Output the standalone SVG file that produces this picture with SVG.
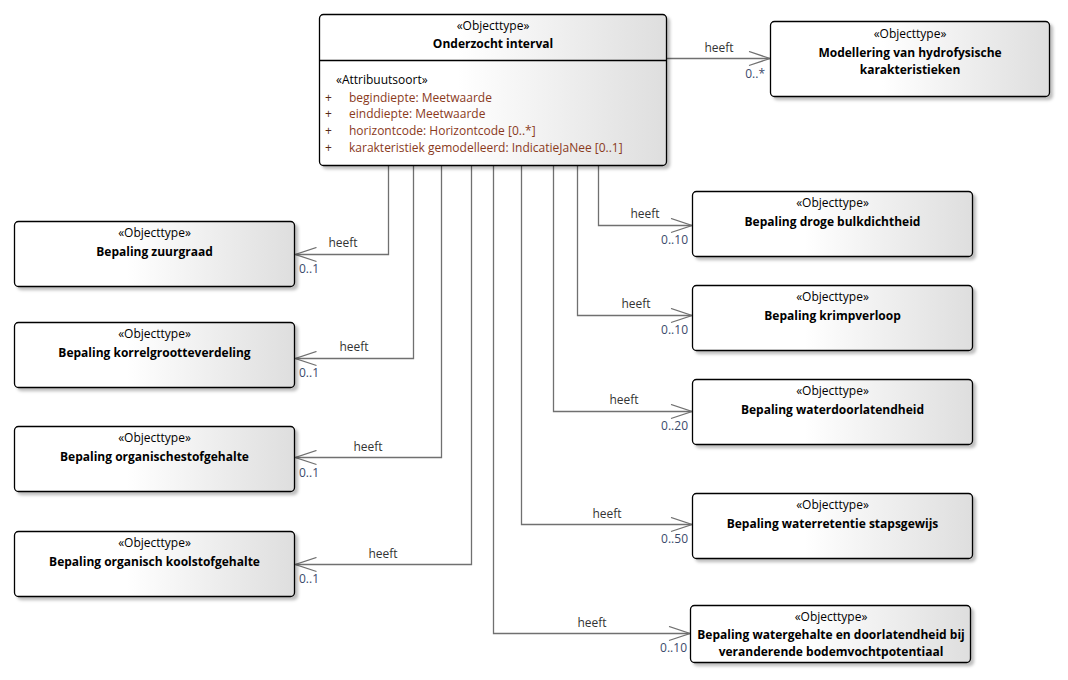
<svg xmlns="http://www.w3.org/2000/svg" width="1068" height="680" viewBox="0 0 1068 680">
<defs>
<linearGradient id="g" x1="0" y1="0" x2="1" y2="0">
<stop offset="0" stop-color="#ffffff"/>
<stop offset="0.4" stop-color="#ffffff"/>
<stop offset="1" stop-color="#dedede"/>
</linearGradient>
<filter id="sh" x="-5%" y="-5%" width="115%" height="125%">
<feDropShadow dx="3" dy="3" stdDeviation="1.5" flood-color="#000000" flood-opacity="0.25"/>
</filter>
<marker id="arr" viewBox="-23 -8 25 16" refX="0" refY="0" markerWidth="25" markerHeight="16" markerUnits="userSpaceOnUse" orient="auto">
<path d="M-21,-7 L0,0 L-21,7" fill="none" stroke="#707070" stroke-width="1.3"/>
</marker>
</defs>
<style>
text{font-family:"Open Sans","Noto Sans","Liberation Sans",sans-serif;font-size:12px;fill:#000}
.box{fill:url(#g);stroke:#000;stroke-width:1.3;filter:url(#sh)}
.st{text-anchor:middle}
.nm{text-anchor:middle;font-weight:bold}
.attr{fill:#8a3a1c}
.plus{fill:#5a2a14}
.conn{fill:none;stroke:#707070;stroke-width:1.3;marker-end:url(#arr)}
.lbl{fill:#333333;text-anchor:middle}
.mul{fill:#3b4a6b}
.mr{fill:#3b4a6b;text-anchor:end}
</style>
<rect width="1068" height="680" fill="#ffffff"/>

<g id="connectors">
<polyline class="conn" points="667,58.5 770,58.5"/>
<polyline class="conn" points="388.5,166 388.5,254.5 295.5,254.5"/>
<polyline class="conn" points="413.5,166 413.5,358.5 295.5,358.5"/>
<polyline class="conn" points="441.5,166 441.5,457.5 295.5,457.5"/>
<polyline class="conn" points="471.5,166 471.5,564.5 295.5,564.5"/>
<polyline class="conn" points="598.5,166 598.5,225.5 692,225.5"/>
<polyline class="conn" points="577.5,166 577.5,315.5 692,315.5"/>
<polyline class="conn" points="553.5,166 553.5,411.5 692,411.5"/>
<polyline class="conn" points="521.5,166 521.5,524.5 692,524.5"/>
<polyline class="conn" points="493.5,166 493.5,633.5 690,633.5"/>
<text class="lbl" x="719" y="52">heeft</text>
<text class="mr" x="765" y="78">0..*</text>
<text class="lbl" x="343" y="247">heeft</text>
<text class="mul" x="299" y="273">0..1</text>
<text class="lbl" x="354" y="351">heeft</text>
<text class="mul" x="299" y="377">0..1</text>
<text class="lbl" x="368" y="451">heeft</text>
<text class="mul" x="299" y="477">0..1</text>
<text class="lbl" x="383" y="558">heeft</text>
<text class="mul" x="299" y="583">0..1</text>
<text class="lbl" x="645" y="218">heeft</text>
<text class="mr" x="688" y="244">0..10</text>
<text class="lbl" x="636" y="308">heeft</text>
<text class="mr" x="688" y="334">0..10</text>
<text class="lbl" x="624" y="404">heeft</text>
<text class="mr" x="688" y="430">0..20</text>
<text class="lbl" x="607" y="518">heeft</text>
<text class="mr" x="688" y="543">0..50</text>
<text class="lbl" x="592" y="627">heeft</text>
<text class="mr" x="687" y="652">0..10</text>
</g>

<g id="onderzocht-interval">
<rect class="box" x="319.5" y="14.5" width="347" height="151" rx="4"/>
<line x1="319.5" y1="60.5" x2="666.5" y2="60.5" stroke="#000" stroke-width="1.3"/>
<text class="st" x="493" y="30">«Objecttype»</text>
<text class="nm" x="493" y="48">Onderzocht interval</text>
<text x="336" y="84">«Attribuutsoort»</text>
<text class="plus" x="325" y="102">+</text>
<text class="attr" x="349" y="102">begindiepte: Meetwaarde</text>
<text class="plus" x="325" y="118">+</text>
<text class="attr" x="349" y="118">einddiepte: Meetwaarde</text>
<text class="plus" x="325" y="135">+</text>
<text class="attr" x="349" y="135">horizontcode: Horizontcode [0..*]</text>
<text class="plus" x="325" y="152">+</text>
<text class="attr" x="349" y="152">karakteristiek gemodelleerd: IndicatieJaNee [0..1]</text>
</g>

<g id="modellering">
<rect class="box" x="770.5" y="21.5" width="279" height="75" rx="4"/>
<text class="st" x="910" y="38">«Objecttype»</text>
<text class="nm" x="910" y="57">Modellering van hydrofysische</text>
<text class="nm" x="910" y="74">karakteristieken</text>
</g>

<g id="zuurgraad">
<rect class="box" x="14.5" y="221.5" width="280" height="65" rx="4"/>
<text class="st" x="154.5" y="237">«Objecttype»</text>
<text class="nm" x="154.5" y="256">Bepaling zuurgraad</text>
</g>

<g id="korrelgrootteverdeling">
<rect class="box" x="14.5" y="322.5" width="280" height="65" rx="4"/>
<text class="st" x="154.5" y="338">«Objecttype»</text>
<text class="nm" x="154.5" y="357">Bepaling korrelgrootteverdeling</text>
</g>

<g id="organischestofgehalte">
<rect class="box" x="14.5" y="426.5" width="280" height="65" rx="4"/>
<text class="st" x="154.5" y="442">«Objecttype»</text>
<text class="nm" x="154.5" y="461">Bepaling organischestofgehalte</text>
</g>

<g id="koolstofgehalte">
<rect class="box" x="14.5" y="531.5" width="280" height="65" rx="4"/>
<text class="st" x="154.5" y="547">«Objecttype»</text>
<text class="nm" x="154.5" y="566">Bepaling organisch koolstofgehalte</text>
</g>

<g id="bulkdichtheid">
<rect class="box" x="692.5" y="191.5" width="280" height="65" rx="4"/>
<text class="st" x="832.5" y="207">«Objecttype»</text>
<text class="nm" x="832.5" y="226">Bepaling droge bulkdichtheid</text>
</g>

<g id="krimpverloop">
<rect class="box" x="692.5" y="285.5" width="280" height="65" rx="4"/>
<text class="st" x="832.5" y="301">«Objecttype»</text>
<text class="nm" x="832.5" y="320">Bepaling krimpverloop</text>
</g>

<g id="waterdoorlatendheid">
<rect class="box" x="692.5" y="379.5" width="280" height="65" rx="4"/>
<text class="st" x="832.5" y="395">«Objecttype»</text>
<text class="nm" x="832.5" y="414">Bepaling waterdoorlatendheid</text>
</g>

<g id="waterretentie">
<rect class="box" x="692.5" y="493.5" width="280" height="65" rx="4"/>
<text class="st" x="832.5" y="509">«Objecttype»</text>
<text class="nm" x="832.5" y="528">Bepaling waterretentie stapsgewijs</text>
</g>

<g id="watergehalte">
<rect class="box" x="690.5" y="605.5" width="280" height="57" rx="4"/>
<text class="st" x="831" y="621">«Objecttype»</text>
<text class="nm" x="831" y="639">Bepaling watergehalte en doorlatendheid bij</text>
<text class="nm" x="831" y="656">veranderende bodemvochtpotentiaal</text>
</g>
</svg>
